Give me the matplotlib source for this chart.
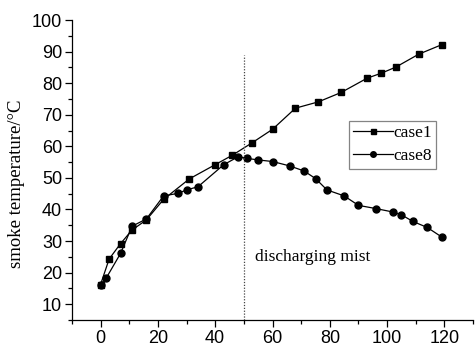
import matplotlib
matplotlib.use("Agg")
import matplotlib.pyplot as plt
from matplotlib.ticker import MultipleLocator

# smoke temperature measurements
case1_t = [0, 3, 7, 11, 16, 22, 31, 40, 46, 53, 60, 68, 76, 84, 93, 98, 103, 111, 119]
case1_temp = [16.2, 24.3, 29.2, 33.5, 36.7, 43.2, 49.7, 54.2, 57.2, 61.2, 65.4, 72.1, 74.1, 77.1, 81.6, 83.2, 85.1, 89.2, 92.2]

case8_t = [0, 2, 7, 11, 16, 22, 27, 30, 34, 43, 48, 51, 55, 60, 66, 71, 75, 79, 85, 90, 96, 102, 105, 109, 114, 119]
case8_temp = [16.2, 18.3, 26.1, 34.7, 37.0, 44.3, 45.1, 46.2, 47.2, 54.2, 56.7, 56.2, 55.7, 55.2, 53.8, 52.2, 49.8, 46.2, 44.3, 41.3, 40.3, 39.2, 38.3, 36.2, 34.3, 31.3]

mist_start = 50

serif = ['Liberation Serif', 'DejaVu Serif']
sans = ['Liberation Sans', 'DejaVu Sans']

fig = plt.figure(figsize=(4.76, 3.47), dpi=100)
ax = fig.add_axes([0.151, 0.078, 0.843, 0.864])

ax.plot(case1_t, case1_temp, color='black', lw=0.9, marker='s', ms=4.5, label='case1')
ax.plot(case8_t, case8_temp, color='black', lw=0.9, marker='o', ms=5, label='case8')
ax.plot([mist_start, mist_start], [5, 89], color='#444444', lw=0.9, linestyle=(0, (1, 1.3)))

ax.text(54, 25, 'discharging mist', family=serif, fontsize=12.5, va='center')

ax.set_xlim(-10, 130)
ax.set_ylim(5, 100)
ax.xaxis.set_minor_locator(MultipleLocator(10))
ax.yaxis.set_minor_locator(MultipleLocator(5))
ax.set_yticks(range(10, 101, 10))
ax.set_xticks(range(0, 121, 20))

for s in ['top', 'right']:
    ax.spines[s].set_visible(False)
for s in ['left', 'bottom']:
    ax.spines[s].set_linewidth(0.9)
ax.tick_params(which='major', direction='out', length=5, width=0.9, labelsize=13, pad=2)
ax.tick_params(which='minor', direction='out', length=3, width=0.9)
for lab in ax.get_xticklabels() + ax.get_yticklabels():
    lab.set_family(sans)

ax.set_ylabel('smoke temperature/\u00b0C', family=serif, fontsize=13.5)
ax.yaxis.set_label_coords(-0.118, 0.455)

leg = ax.legend(loc='upper left', bbox_to_anchor=(0.690, 0.664), prop={'family': serif, 'size': 12.5},
                frameon=True, fancybox=False, edgecolor='#666666', handlelength=2.3,
                handletextpad=0.0, borderpad=0.25, labelspacing=0.4, markerscale=0.8, borderaxespad=0)
leg.get_frame().set_linewidth(0.9)

fig.savefig('out.png', dpi=100)
